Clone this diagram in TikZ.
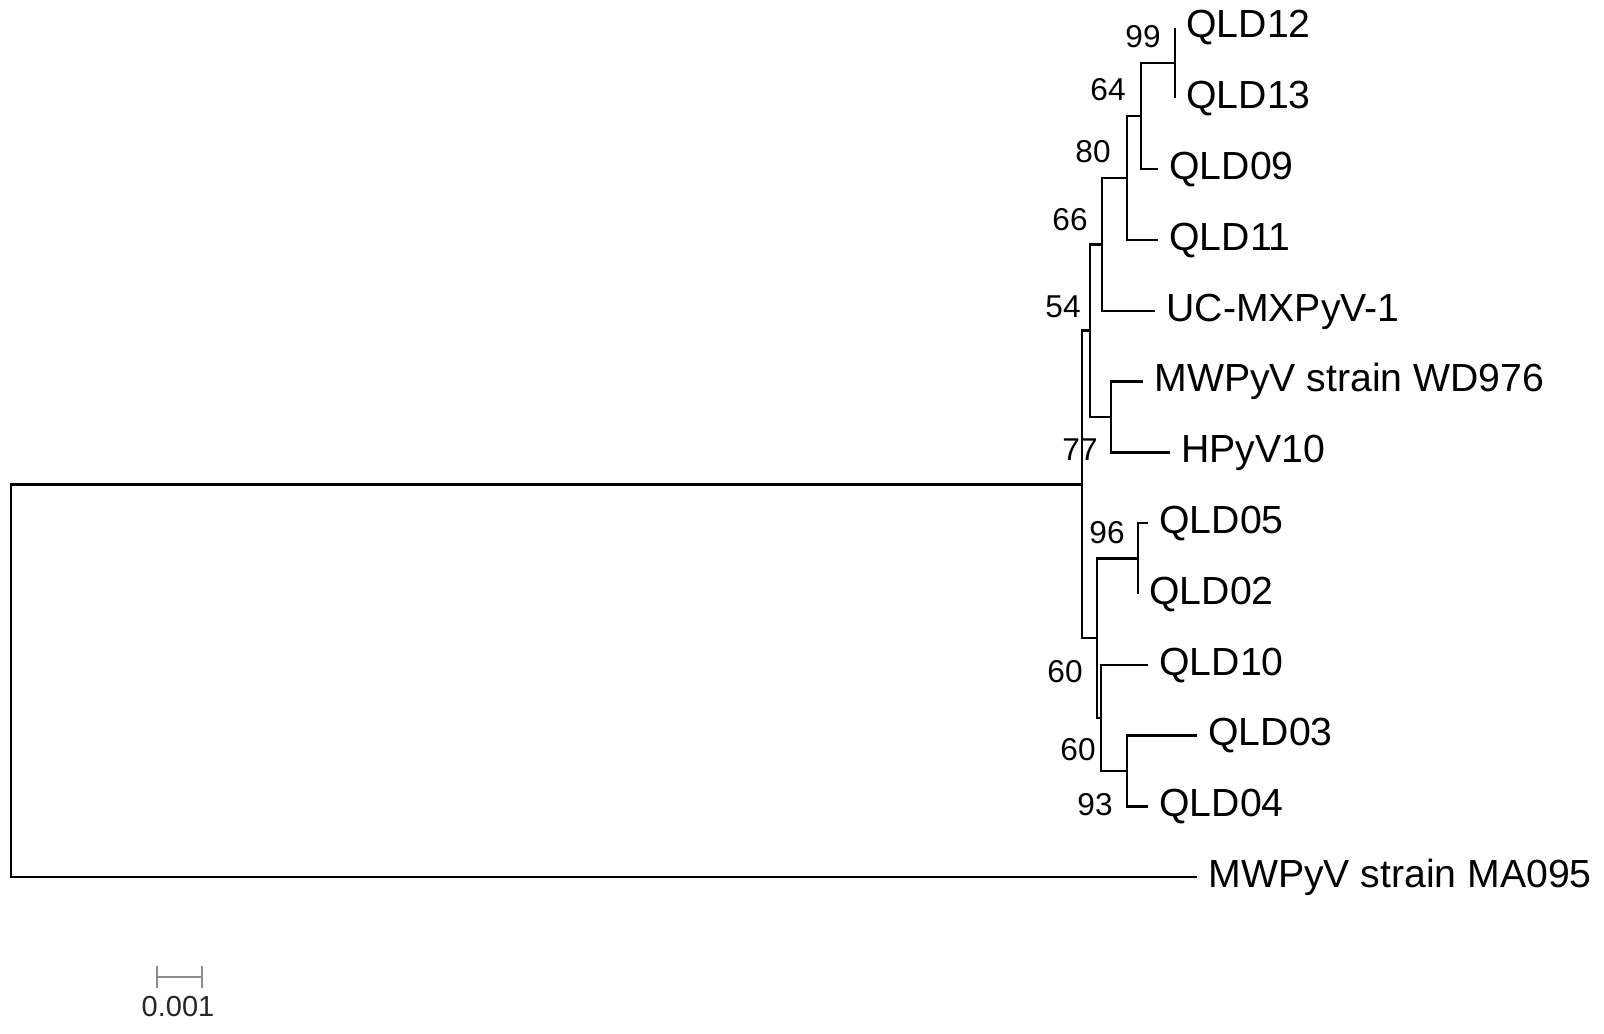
\documentclass[tikz,border=0pt]{standalone}
\usepackage{fontspec}
\setmainfont{Liberation Sans}

\tikzset{
  branch/.style={line width=1.2pt},
  taxon/.style={anchor=base west, inner sep=0pt, xshift=5.5pt, yshift=-5.2pt,
    font=\fontsize{19.6}{22}\selectfont},
  boot/.style={anchor=base, inner sep=0pt, font=\fontsize{15.8}{18}\selectfont},
  scalebar/.style={line width=0.9pt, black!45},
}

\begin{document}
\begin{tikzpicture}[x=0.5pt, y=-0.5pt]
    \useasboundingbox (0,0) rectangle (1604,1033);
    % tips
    \coordinate (tQLD12) at (1175,27.5);
    \coordinate (tQLD13) at (1175,98.3);
    \coordinate (tQLD09) at (1158,169.1);
    \coordinate (tQLD11) at (1158,239.9);
    \coordinate (tUCMX) at (1155,310.7);
    \coordinate (tWD976) at (1143,381.5);
    \coordinate (tHPyV10) at (1170,452.3);
    \coordinate (tQLD05) at (1148,523.1);
    \coordinate (tQLD02) at (1138,593.9);
    \coordinate (tQLD10) at (1148,664.7);
    \coordinate (tQLD03) at (1197,735.5);
    \coordinate (tQLD04) at (1148,806.3);
    \coordinate (tMA095) at (1197,877.1);
    % internal nodes
    \coordinate (n99) at (1175,62.9);
    \coordinate (n64) at (1141,116);
    \coordinate (n80) at (1127,178);
    \coordinate (n66) at (1102,244.3);
    \coordinate (nWH) at (1111,416.9);
    \coordinate (n54) at (1090,330.6);
    \coordinate (n96) at (1138,558.5);
    \coordinate (n93) at (1127,770.9);
    \coordinate (n60b) at (1101,717.8);
    \coordinate (n60a) at (1097,638.2);
    \coordinate (n77) at (1082,484.4);
    \coordinate (root) at (11,680.7);
    % branches
    \draw[branch] (tQLD12) -| (n99) |- (tQLD13);
    \draw[branch] (n99) -| (n64) |- (tQLD09);
    \draw[branch] (n64) -| (n80) |- (tQLD11);
    \draw[branch] (n80) -| (n66) |- (tUCMX);
    \draw[branch] (tWD976) -| (nWH) |- (tHPyV10);
    \draw[branch] (n66) -| (n54) |- (nWH);
    \draw[branch] (tQLD05) -| (n96) |- (tQLD02);
    \draw[branch] (tQLD03) -| (n93) |- (tQLD04);
    \draw[branch] (tQLD10) -| (n60b) |- (n93);
    \draw[branch] (n96) -| (n60a) |- (n60b);
    \draw[branch] (n54) -| (n77) |- (n60a);
    \draw[branch] (n77) -| (root) |- (tMA095);
    % taxa
    \node[taxon] (lQLD12) at (tQLD12) {QLD12};
    \node[taxon] (lQLD13) at (tQLD13) {QLD13};
    \node[taxon] (lQLD09) at (tQLD09) {QLD09};
    \node[taxon] (lQLD11) at (tQLD11) {QLD11};
    \node[taxon] (lUCMX) at (tUCMX) {UC-MXPyV-1};
    \node[taxon] (lWD976) at (tWD976) {MWPyV strain WD976};
    \node[taxon] (lHPyV10) at (tHPyV10) {HPyV10};
    \node[taxon] (lQLD05) at (tQLD05) {QLD05};
    \node[taxon] (lQLD02) at (tQLD02) {QLD02};
    \node[taxon] (lQLD10) at (tQLD10) {QLD10};
    \node[taxon] (lQLD03) at (tQLD03) {QLD03};
    \node[taxon] (lQLD04) at (tQLD04) {QLD04};
    \node[taxon] (lMA095) at (tMA095) {MWPyV strain MA095};
    % bootstrap values
    \node[boot] (b99) at (1143,47) {99};
    \node[boot] (b64) at (1108,100) {64};
    \node[boot] (b80) at (1093,162) {80};
    \node[boot] (b66) at (1070,230) {66};
    \node[boot] (b54) at (1063,317) {54};
    \node[boot] (b77) at (1080,460) {77};
    \node[boot] (b96) at (1107,543) {96};
    \node[boot] (b60a) at (1065,682) {60};
    \node[boot] (b60b) at (1078,760) {60};
    \node[boot] (b93) at (1095,815) {93};
    % scale bar
    \coordinate (sL) at (157,977);
    \coordinate (sR) at (202,977);
    \draw[scalebar] (sL) -- (sR);
    \draw[scalebar] ([yshift=5.5pt]sL) -- ([yshift=-5.5pt]sL);
    \draw[scalebar] ([yshift=5.5pt]sR) -- ([yshift=-5.5pt]sR);
    \node[boot, font=\fontsize{14.5}{17}\selectfont, black!85] (scale) at (178,1016) {0.001};
\end{tikzpicture}
\end{document}
